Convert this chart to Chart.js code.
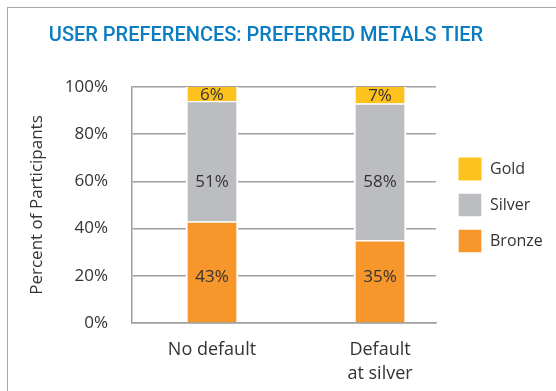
<!DOCTYPE html>
<html>
<head>
<meta charset="utf-8">
<script src="https://cdn.jsdelivr.net/npm/chart.js@4.4.1/dist/chart.umd.min.js"></script>
<style>
  html, body { margin: 0; padding: 0; background: #fff; }
  #wrap { position: relative; width: 556px; height: 391px; overflow: hidden; }
  #frameTop { position: absolute; left: 8px; top: 7px; width: 600px; height: 0; border-top: 1.5px solid #a8a8a8; }
  #frameLeft { position: absolute; left: 7px; top: 7px; width: 0; height: 500px; border-left: 1.5px solid #a8a8a8; }
  #c { position: absolute; left: -12px; top: 0; }
</style>
</head>
<body>
<div id="wrap">
  <div id="frameTop"></div>
  <div id="frameLeft"></div>
  <canvas id="c" width="556" height="391" style="width:556px;height:391px"></canvas>
</div>
<script>
const categories = ['No default', ['Default', 'at silver']];
const bronze = [43, 35];
const silver = [51, 58];
const gold = [6, 7];
const yTicks = [0, 20, 40, 60, 80, 100];

const TEXT = '#333333';
const BODY_FONT = "'Open Sans', sans-serif";

const toPoints = arr => arr.map((v, i) => ({ x: i, y: v }));

// Value labels: placed on a fixed gridline level per series (as in the original), or segment centre.
const valueLabels = {
  id: 'valueLabels',
  afterDatasetsDraw(chart, args, opts) {
    const ctx = chart.ctx;
    const yScale = chart.scales.y;
    ctx.save();
    ctx.font = "17px " + BODY_FONT;
    ctx.fillStyle = TEXT;
    ctx.textAlign = 'center';
    ctx.textBaseline = 'middle';
    chart.data.datasets.forEach((ds, di) => {
      const meta = chart.getDatasetMeta(di);
      const level = opts.levels[di];
      meta.data.forEach((el, i) => {
        const p = el.getProps(['x', 'y', 'base'], true);
        const y = level == null ? (p.y + p.base) / 2 : yScale.getPixelForValue(level);
        ctx.fillText(ds.data[i].y + '%', p.x, y + 1);
      });
    });
    ctx.restore();
  }
};

const common = { barThickness: 52, borderColor: '#ffffff', borderSkipped: false };

new Chart(document.getElementById('c'), {
  type: 'bar',
  data: {
    datasets: [
      Object.assign({ label: 'Bronze', data: toPoints(bronze), backgroundColor: '#F7962A',
        borderWidth: { top: 1.5, bottom: 0, left: 2, right: 2 } }, common),
      Object.assign({ label: 'Silver', data: toPoints(silver), backgroundColor: '#BCBDC0',
        borderWidth: { top: 1.5, bottom: 0, left: 2, right: 2 } }, common),
      Object.assign({ label: 'Gold', data: toPoints(gold), backgroundColor: '#FDC21D',
        borderWidth: { top: 0, bottom: 0, left: 2, right: 2 } }, common)
    ]
  },
  options: {
    responsive: false,
    animation: false,
    layout: { padding: { left: 0, right: 0, top: 0, bottom: 0 } },
    plugins: {
      tooltip: { enabled: false },
      valueLabels: { levels: [20, 60, null] },
      title: {
        display: true,
        text: 'USER PREFERENCES: PREFERRED METALS TIER',
        color: '#0A7DC2',
        font: { family: "Roboto, 'Open Sans', sans-serif", size: 20, weight: '500' },
        padding: { top: 24, bottom: 39 }
      },
      legend: {
        position: 'right',
        fullSize: false,
        reverse: true,
        maxWidth: 98,
        labels: {
          boxWidth: 24,
          boxHeight: 24,
          padding: 12,
          color: TEXT,
          font: { family: BODY_FONT, size: 16 }
        }
      }
    },
    scales: {
      x: {
        type: 'linear',
        stacked: true,
        offset: false,
        min: -0.476,
        max: 1.333,
        afterBuildTicks: s => { s.ticks = categories.map((c, i) => ({ value: i })); },
        afterFit: s => { s.height = 68; },
        grid: { display: false },
        border: { display: true, color: '#a0a0a0', width: 1.5 },
        ticks: {
          color: TEXT,
          font: { family: BODY_FONT, size: 18, lineHeight: 1.333 },
          padding: 7,
          maxRotation: 0,
          autoSkip: false,
          callback: (v) => categories[v]
        }
      },
      y: {
        stacked: true,
        min: 0,
        max: 100,
        afterBuildTicks: s => { s.ticks = yTicks.map(v => ({ value: v })); },
        afterFit: s => { s.width = 144; },
        grid: { color: '#a0a0a0', lineWidth: 1.5, drawTicks: false },
        border: { display: true, color: '#a0a0a0', width: 1.5 },
        ticks: {
          color: TEXT,
          font: { family: BODY_FONT, size: 17 },
          padding: 24,
          callback: v => v + '%'
        },
        title: {
          display: true,
          text: 'Percent of Participants',
          color: TEXT,
          font: { family: BODY_FONT, size: 17 },
          padding: { top: 39, bottom: 0 }
        }
      },
      y2: {
        type: 'linear',
        position: 'right',
        display: true,
        grid: { display: false },
        border: { display: false },
        ticks: { display: false },
        afterFit: s => { s.width = 10; }
      }
    }
  },
  plugins: [valueLabels]
});
</script>
</body>
</html>
